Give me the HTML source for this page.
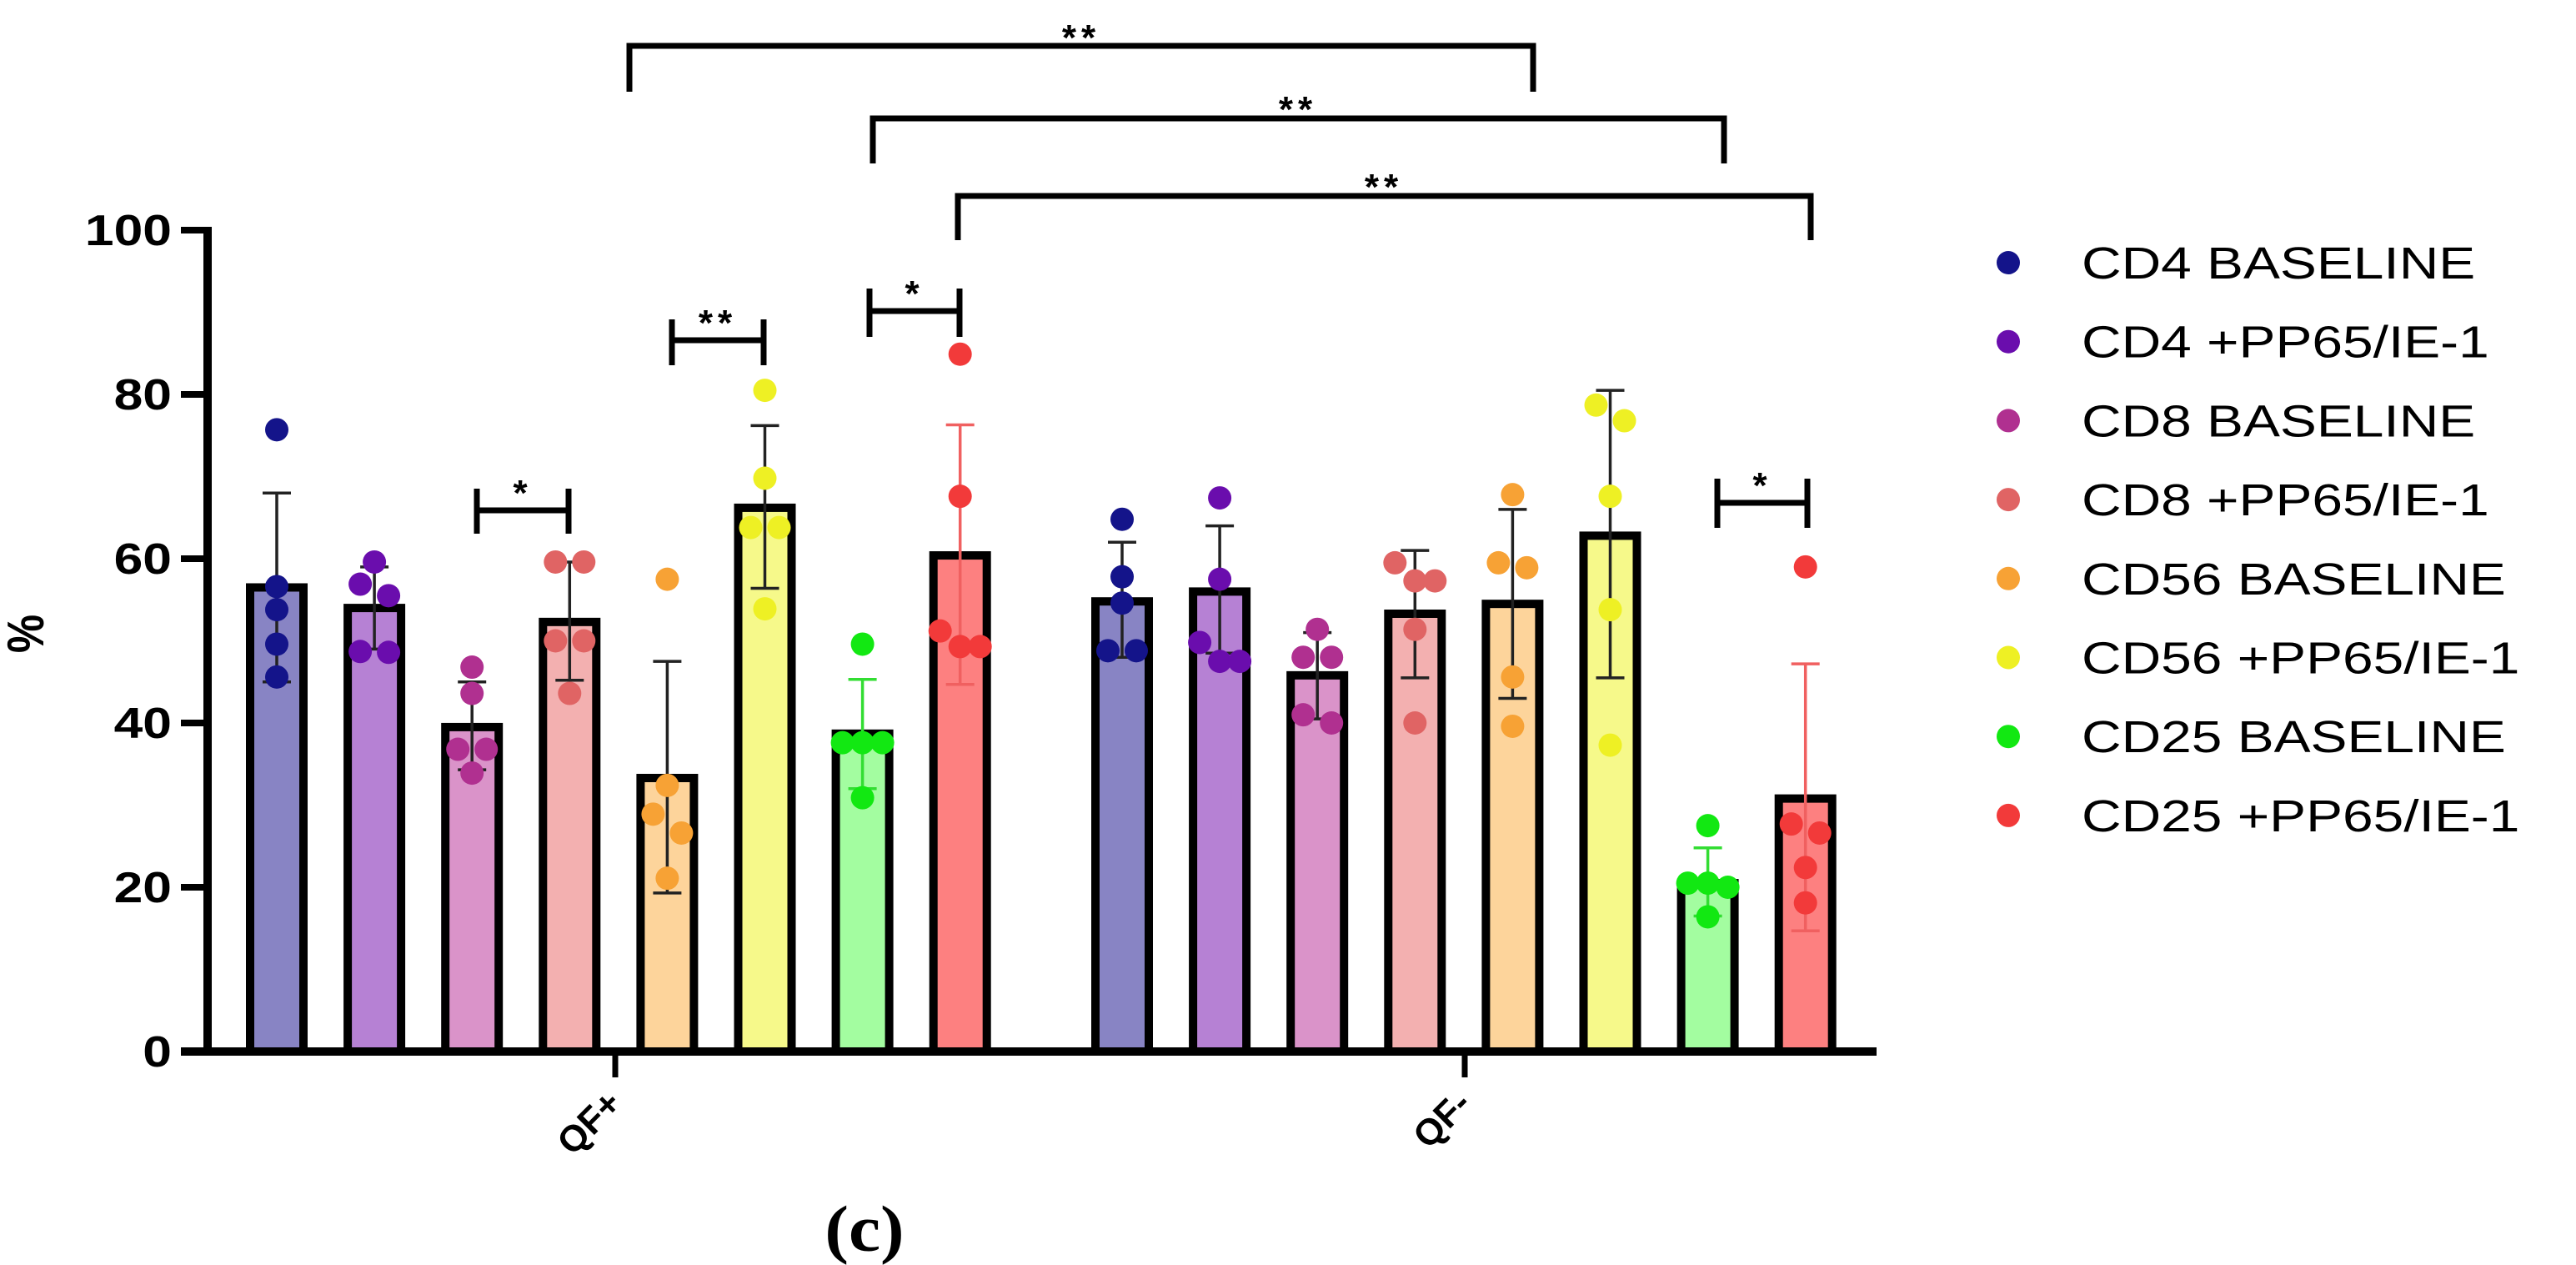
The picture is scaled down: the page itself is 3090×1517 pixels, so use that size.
<!DOCTYPE html>
<html><head><meta charset="utf-8"><style>
html,body{margin:0;padding:0;background:#fff;}
svg{display:block;}
text{font-family:"Liberation Sans",sans-serif;}
</style></head><body>
<svg id="chart" width="3090" height="1517" viewBox="0 0 3090 1517" xmlns="http://www.w3.org/2000/svg">
<g id="axes"></g>
<g id="bars"></g>
<g id="sig"></g>
<g id="legend"></g>
<text x="0" y="0" transform="translate(1037,1500) scale(1.1,1)" font-weight="bold" font-size="78" text-anchor="middle" style="font-family:'Liberation Serif',serif">(c)</text>
</svg>
<script>
const groups = ["QF+", "QF-"];
const seriesNames = ["CD4 BASELINE","CD4 +PP65/IE-1","CD8 BASELINE","CD8 +PP65/IE-1","CD56 BASELINE","CD56 +PP65/IE-1","CD25 BASELINE","CD25 +PP65/IE-1"];
const yTicks = [0,20,40,60,80,100];
const meansQFpos = [56.5,54,39.5,52.3,33.3,66.2,38.7,60.4];
const meansQFneg = [54.8,56,45.8,53.3,54.5,62.8,20.5,30.8];
const errHiQFpos = [68,59,45,59.6,47.5,76.2,45.3,76.3];
const errLoQFpos = [45,49,34.3,45.2,19.3,56.4,32,44.7];
const errHiQFneg = [62,64,51,61,66,80.5,24.8,47.2];
const errLoQFneg = [48,48.5,40.5,45.5,43,45.5,16.5,14.7];
const pointsQFpos = [
 [75.7,56.6,53.8,49.6,45.6],
 [59.6,56.9,55.5,48.7,48.6],
 [46.8,43.6,36.8,36.8,33.9],
 [59.6,59.6,50,50,43.6],
 [57.5,32.4,28.9,26.6,21.1],
 [80.5,69.8,63.8,63.8,53.9],
 [49.6,37.6,37.6,37.6,30.9],
 [84.9,67.6,51.2,49.3,49.3]];
const pointsQFneg = [
 [64.8,57.8,54.6,48.8,48.8],
 [67.4,57.5,49.8,47.5,47.5],
 [51.4,48,48,41,40],
 [59.5,57.3,57.3,51.4,40],
 [67.8,59.5,58.9,45.6,39.6],
 [78.7,76.8,67.6,53.8,37.3],
 [27.5,20.5,20.5,20,16.4],
 [59,27.7,26.6,22.4,18.1]];
const sigLabels = ["**","**","**","*","**","*","*"];

const fills = ["#8884c4","#b681d4","#da93c9","#f3b0b0","#fdd49b","#f6f98a","#a3fda0","#fd8080"];
const dots = ["#14148a","#6a0dad","#b03090","#e06464","#f7a235","#eef024","#12e812","#f23a3a"];
const errCol = ["#222","#222","#222","#222","#222","#222","#33dd33","#f06060"];
const NS="http://www.w3.org/2000/svg";
const Y0=1261, PXU=9.85;
function y(v){return Y0 - v*PXU;}
const groupStart=[332,1346], barStep=117.1, barW=64;
function bx(g,i){return groupStart[g]+i*barStep;}
function mk(tag,attrs,parent){const e=document.createElementNS(NS,tag);for(const k in attrs)e.setAttribute(k,attrs[k]);parent.appendChild(e);return e;}

const axes=document.getElementById('axes');
let e=mk('line',{x1:249,y1:y(100)-4,x2:249,y2:Y0+5,stroke:'#000','stroke-width':10},axes);


e=mk('line',{x1:217,y1:Y0,x2:2251,y2:Y0,stroke:'#000','stroke-width':10},axes);


yTicks.forEach(t=>{
  let l=mk('line',{x1:217,y1:y(t),x2:249,y2:y(t),stroke:'#000','stroke-width':8},axes);
  
  
  let tx=mk('text',{x:0,y:0,transform:`translate(206,${y(t)+18}) scale(1.2,1)`,'text-anchor':'end','font-size':52,'font-weight':'bold'},axes);
  tx.textContent=t;
  
  
});
let yt=mk('text',{x:0,y:0,'font-size':52,'font-weight':'bold','text-anchor':'middle',transform:'translate(52,760) rotate(-90) scale(1,1.2)'},axes);
yt.textContent='%';


const tickX=[738,1757];
groups.forEach((gname,g)=>{
  let l=mk('line',{x1:tickX[g],y1:Y0,x2:tickX[g],y2:1292,stroke:'#000','stroke-width':7},axes);
  
  
  let tx=mk('text',{x:0,y:0,'font-size':44,'font-weight':'bold','text-anchor':'end',transform:`translate(${tickX[g]+10},1326) rotate(-45)`},axes);
  tx.textContent=gname;
  
  
});

const barsG=document.getElementById('bars');
const means=[meansQFpos,meansQFneg], hi=[errHiQFpos,errHiQFneg], lo=[errLoQFpos,errLoQFneg], pts=[pointsQFpos,pointsQFneg];
for(let g=0;g<2;g++){
  for(let i=0;i<8;i++){
    const cx=bx(g,i), m=means[g][i];
    let r=mk('rect',{x:cx-barW/2,y:y(m),width:barW,height:Y0-y(m),fill:fills[i],stroke:'#000','stroke-width':10},barsG);
    
    
    const ec=errCol[i];
    let el=mk('path',{d:`M${cx},${y(hi[g][i])}V${y(lo[g][i])}M${cx-17},${y(hi[g][i])}H${cx+17}M${cx-17},${y(lo[g][i])}H${cx+17}`,stroke:ec,'stroke-width':3.5,fill:'none'},barsG);
    
    
    const p=pts[g][i];
    p.forEach((v,k)=>{
      let dup=p.filter(q=>Math.abs(q-v)<2.5).length;
      let idx=p.slice(0,k).filter(q=>Math.abs(q-v)<2.5).length;
      let dx= dup>1 ? (idx-(dup-1)/2)*(dup>2?24:34) : 0;
      let c=mk('circle',{cx:cx+dx,cy:y(v),r:14,fill:dots[i]},barsG);
      
      
    });
  }
}

const sigG=document.getElementById('sig');
const sigDefs=[
 {x1:755,x2:1839,yl:55,l1:110,l2:110,sx:1297,sy:60},
 {x1:1047,x2:2068,yl:142,l1:196,l2:196,sx:1557,sy:146},
 {x1:1149,x2:2172,yl:235,l1:288,l2:288,sx:1660,sy:239},
 {x1:572,x2:682,yl:612,l1:586,l2:640,sx:627,sy:606,cap:1},
 {x1:806,x2:916,yl:408,l1:383,l2:438,sx:861,sy:402,cap:1},
 {x1:1043,x2:1151,yl:373,l1:346,l2:404,sx:1097,sy:367,cap:1},
 {x1:2060,x2:2168,yl:603,l1:574,l2:633,sx:2114,sy:597,cap:1}];
sigDefs.forEach((s,k)=>{
  let d = s.cap ? `M${s.x1},${s.l1}V${s.l2}M${s.x2},${s.l1}V${s.l2}M${s.x1},${s.yl}H${s.x2}` : `M${s.x1},${s.l1}V${s.yl}H${s.x2}V${s.l2}`;
  let p=mk('path',{d:d,stroke:'#000','stroke-width':7,fill:'none'},sigG);
  
  
  let t=mk('text',{x:s.sx,y:s.sy,'text-anchor':'middle','font-size':44,'font-weight':'bold','letter-spacing':6},sigG);
  t.textContent=sigLabels[k];
  
  
});

const lg=document.getElementById('legend');
seriesNames.forEach((n,i)=>{
  const yy=315+i*94.7;
  let c=mk('circle',{cx:2409,cy:yy,r:14,fill:dots[i]},lg);
  
  
  let t=mk('text',{x:0,y:0,transform:`translate(2497,${yy+19}) scale(1.22,1)`,'font-size':54},lg);
  t.textContent=n;
  
  
});
</script>
</body></html>
